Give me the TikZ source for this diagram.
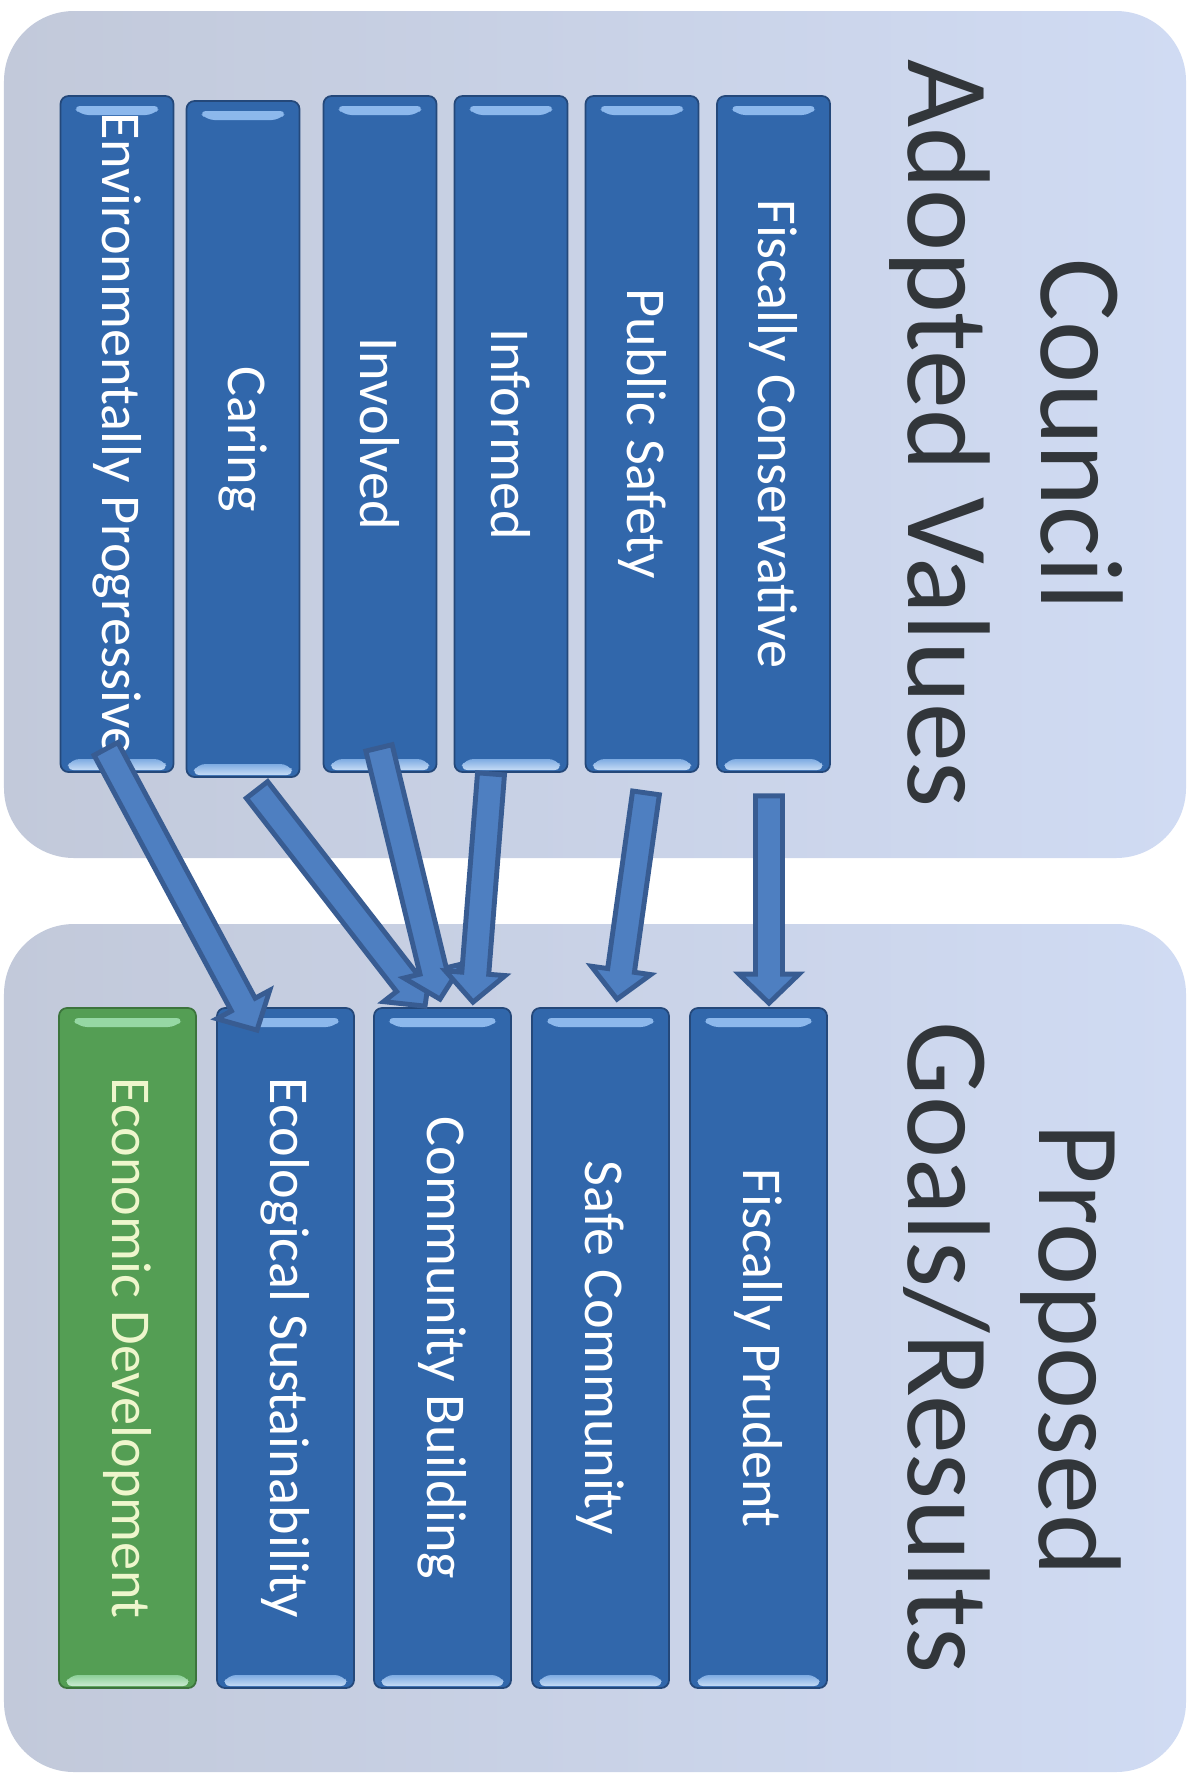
\documentclass[tikz,border=0pt]{standalone}
\usepackage{fontspec}
\setmainfont{Carlito}
\usetikzlibrary{calc}
\definecolor{panelleft}{RGB}{194,201,218}
\definecolor{panelright}{RGB}{208,219,243}
\definecolor{barblue}{RGB}{49,103,171}
\definecolor{barline}{RGB}{36,72,122}
\definecolor{barhi}{RGB}{140,184,236}
\definecolor{bargreen}{RGB}{84,158,84}
\definecolor{greenline}{RGB}{60,116,60}
\definecolor{greenhi}{RGB}{150,216,164}
\definecolor{greentext}{RGB}{238,246,204}
\definecolor{arrowfill}{RGB}{78,127,193}
\definecolor{arrowline}{RGB}{56,92,146}
\definecolor{titletext}{RGB}{50,54,58}
\newcommand{\sidetext}[1]{\rotatebox{-90}{#1}}
\newcommand{\valuearrow}[2]{%
  \coordinate (neck) at ($(#2)!0.29cm!(#1)$);
  \filldraw[valarrow] ($(#1)!0.135cm!90:(#2)$) -- ($(neck)!0.135cm!-90:(#1)$)
    -- ($(neck)!0.30cm!-90:(#1)$) -- (#2) -- ($(neck)!0.30cm!90:(#1)$)
    -- ($(neck)!0.135cm!90:(#1)$) -- ($(#1)!0.135cm!-90:(#2)$) -- cycle;}
\begin{document}
\begin{tikzpicture}[
  barbox/.style n args={3}{draw=#2,line width=0.5pt,fill=#1,rounded corners=0.08cm,inner sep=0pt,
    font=\fontsize{16}{18}\selectfont,
    path picture={
      \fill[#3] ([shift={(0.12,-0.10)}]path picture bounding box.north west)
        -- ([shift={(-0.12,-0.10)}]path picture bounding box.north east)
        -- ([shift={(-0.20,-0.19)}]path picture bounding box.north east)
        -- ([shift={(0.20,-0.19)}]path picture bounding box.north west) -- cycle;
      \shade[top color=#3!85!#1,bottom color=#3!50!white]
        ([shift={(0.05,0.02)}]path picture bounding box.south west)
        -- ([shift={(-0.05,0.02)}]path picture bounding box.south east)
        -- ([shift={(-0.11,0.13)}]path picture bounding box.south east)
        -- ([shift={(0.11,0.13)}]path picture bounding box.south west) -- cycle;}},
  topbar/.style={barbox={barblue}{barline}{barhi},text=white,minimum width=1.13cm,minimum height=6.76cm},
  goalbar/.style={barbox={barblue}{barline}{barhi},text=white,minimum width=1.37cm,minimum height=6.80cm},
  greenbar/.style={barbox={bargreen}{greenline}{greenhi},text=greentext,minimum width=1.37cm,minimum height=6.80cm},
  title/.style={rotate=-90,anchor=base,inner sep=0pt,text=titletext,font=\fontsize{33.5}{40}\selectfont},
  valarrow/.style={fill=arrowfill,draw=arrowline,line width=1.4pt,line join=miter}]
\useasboundingbox (0,0) rectangle (11.92,-17.75);
\shade[left color=panelleft,right color=panelright,rounded corners=0.7cm] (0.04,-0.11) rectangle (11.86,-8.58);
\shade[left color=panelleft,right color=panelright,rounded corners=0.7cm] (0.04,-9.24) rectangle (11.86,-17.72);
\node[title] (council) at (10.41,-4.345) {Council};
\node[title] (adopted) at (9.085,-4.335) {Adopted Values};
\node[title] (proposed) at (10.39,-13.50) {Proposed};
\node[title] (goals) at (9.08,-13.48) {Goals/Results};
\node[topbar] (envprog) at (1.17,-4.34) {\sidetext{Environmentally Progressive}};
\node[topbar] (caring) at (2.43,-4.39) {\sidetext{Caring}};
\node[topbar] (involved) at (3.80,-4.34) {\sidetext{Involved}};
\node[topbar] (informed) at (5.11,-4.34) {\sidetext{Informed}};
\node[topbar] (pubsafety) at (6.42,-4.34) {\sidetext{Public Safety}};
\node[topbar] (fiscons) at (7.735,-4.34) {\sidetext{Fiscally Conservative}};
\node[greenbar] (econdev) at (1.275,-13.48) {\sidetext{Economic Development}};
\node[goalbar] (ecosust) at (2.855,-13.48) {\sidetext{Ecological Sustainability}};
\node[goalbar] (commbuild) at (4.425,-13.48) {\sidetext{Community Building}};
\node[goalbar] (safecomm) at (6.005,-13.48) {\sidetext{Safe Community}};
\node[goalbar] (fisprud) at (7.585,-13.48) {\sidetext{Fiscally Prudent}};
\coordinate (envtail) at ($(envprog.south)+(-0.11,0.24)$);
\coordinate (envtip) at ($(ecosust.north)+(-0.285,-0.23)$);
\coordinate (caringtail) at ($(caring.south)+(0.14,-0.12)$);
\coordinate (caringtip) at ($(commbuild.north)+(-0.175,0.01)$);
\coordinate (involvedtail) at ($(involved.south)+(-0.01,0.25)$);
\coordinate (involvedtip) at ($(commbuild.north)+(-0.025,0.08)$);
\coordinate (informedtail) at ($(informed.south)+(-0.20,-0.01)$);
\coordinate (informedtip) at ($(commbuild.north)+(0.305,0.05)$);
\coordinate (safetytail) at ($(pubsafety.south)+(0.04,-0.20)$);
\coordinate (safetytip) at ($(safecomm.north)+(0.165,0.08)$);
\coordinate (fiscaltail) at ($(fiscons.south)+(-0.045,-0.23)$);
\coordinate (fiscaltip) at ($(fisprud.north)+(0.105,0.04)$);
\valuearrow{envtail}{envtip}
\valuearrow{caringtail}{caringtip}
\valuearrow{involvedtail}{involvedtip}
\valuearrow{informedtail}{informedtip}
\valuearrow{safetytail}{safetytip}
\valuearrow{fiscaltail}{fiscaltip}
\end{tikzpicture}
\end{document}
